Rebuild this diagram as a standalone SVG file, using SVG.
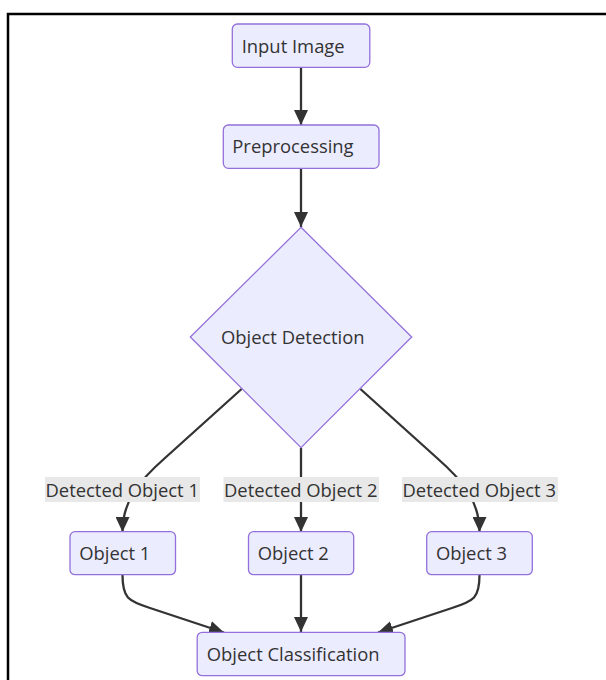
<svg xmlns="http://www.w3.org/2000/svg" width="606" height="680" viewBox="0 0 606 680">
<defs>
<style>
.node rect, .node polygon { fill: #ECECFF; stroke: #9370DB; stroke-width: 1.3; }
.node text { font-family: "Open Sans", "Noto Sans", sans-serif; font-size: 18.4px; fill: #333333; }
.edge { fill: none; stroke: #333333; stroke-width: 2.3; marker-end: url(#arrow); }
.lbl rect { fill: #E8E8E8; stroke: none; }
.lbl text { font-family: "Open Sans", "Noto Sans", sans-serif; font-size: 18.4px; fill: #333333; }
</style>
<marker id="arrow" viewBox="0 0 10 10" refX="10" refY="5" markerUnits="userSpaceOnUse" markerWidth="15" markerHeight="14" preserveAspectRatio="none" orient="auto">
<path d="M0,0 L10,5 L0,10 z" fill="#333333"/>
</marker>
</defs>
<rect width="606" height="680" fill="#FFFFFF"/>
<path d="M8,680 V14 H606" fill="none" stroke="#000000" stroke-width="2.5"/>

<g id="connectors">
<path class="edge" d="M301,67 V125"/>
<path class="edge" d="M301,168 V227"/>
<path class="edge" d="M241.6,389 L165,458 C140,480 122.5,500 122.5,532"/>
<path class="edge" d="M301,447.7 V532"/>
<path class="edge" d="M360.4,389 L437,458 C462,480 479.5,500 479.5,532"/>
<path class="edge" d="M122.5,575 C122.5,598 128,601 150,608 L224,632.5"/>
<path class="edge" d="M301,575 V632"/>
<path class="edge" d="M479.5,575 C479.5,598 474,601 452,608 L378,632.5"/>
</g>

<g id="edge-labels">
<g class="lbl" id="label1"><rect x="45" y="477" width="155" height="25"/><text x="45.5" y="497">Detected Object 1</text></g>
<g class="lbl" id="label2"><rect x="223.5" y="477" width="155.5" height="25"/><text x="224" y="497">Detected Object 2</text></g>
<g class="lbl" id="label3"><rect x="402" y="477" width="156" height="25"/><text x="402.5" y="497">Detected Object 3</text></g>
</g>

<g class="node" id="input-image"><rect x="232.3" y="24" width="137.5" height="43.3" rx="5"/><text x="241.7" y="52.5">Input Image</text></g>
<g class="node" id="preprocessing"><rect x="223.3" y="125" width="155.7" height="43.3" rx="5"/><text x="232.3" y="153.3">Preprocessing</text></g>
<g class="node" id="object-detection"><polygon points="301,227.3 411.7,337 301,447.7 190.3,337"/><text x="221" y="344">Object Detection</text></g>
<g class="node" id="object1"><rect x="70" y="531.7" width="105.5" height="43" rx="5"/><text x="79.2" y="559.8">Object 1</text></g>
<g class="node" id="object2"><rect x="248.5" y="531.7" width="105.2" height="43" rx="5"/><text x="257.7" y="559.8">Object 2</text></g>
<g class="node" id="object3"><rect x="426.7" y="531.7" width="105.6" height="43" rx="5"/><text x="435.9" y="559.8">Object 3</text></g>
<g class="node" id="object-classification"><rect x="197.2" y="632.3" width="207.8" height="43.4" rx="5"/><text x="206.8" y="660.7">Object Classification</text></g>
</svg>
